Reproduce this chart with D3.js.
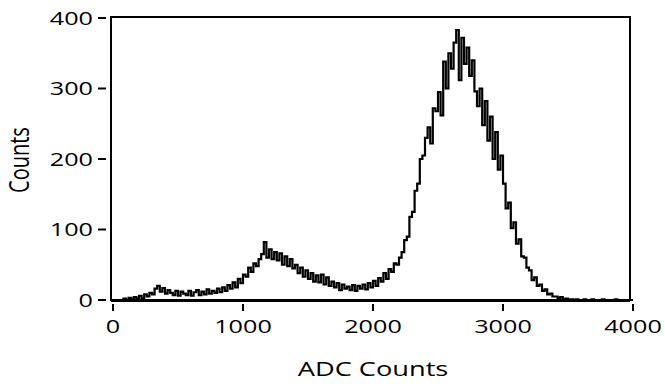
<!DOCTYPE html>
<html>
<head>
<meta charset="utf-8">
<script src="https://cdn.jsdelivr.net/npm/d3@7"></script>
<style>
  body { margin: 0; background: #fff; }
  text { font-family: "Open Sans", sans-serif; fill: #000; }
</style>
</head>
<body>
<svg id="chart" width="665" height="384"></svg>
<script>
// histogram bins, 20 ADC counts wide, starting at 0
const binWidth = 20;
const counts = [
    0, 0, 0, 0, 2, 0, 3, 1, 4, 2, 6, 2, 8, 5, 10, 8, 16, 20, 12, 17,
    9, 14, 10, 7, 13, 6, 12, 9, 7, 13, 6, 11, 14, 7, 12, 8, 15, 9, 13, 10,
    16, 11, 18, 13, 21, 16, 25, 18, 30, 24,
    36, 33, 46, 40, 52, 48, 58, 65, 82, 60,
    72, 58, 68, 56, 66, 50, 62, 48, 58, 45,
    50, 38, 46, 33, 42, 30, 38, 26, 35, 25,
    36, 22, 32, 20, 26, 18, 24, 14, 22, 16,
    19, 14, 21, 13, 20, 16, 22, 15, 24, 18,
    27, 20, 31, 26, 38, 30, 44, 40, 52, 50,
    60, 68, 85, 90, 118, 125, 155, 165, 200, 205,
    230, 245, 222, 272, 268, 295, 262, 338, 300, 350,
    328, 365, 383, 312, 372, 335, 358, 318, 340, 296,
    275, 300, 248, 282, 226, 260, 200, 238, 185, 205,
    165, 130, 138, 102, 110, 80, 86, 62, 60, 46,
    42, 28, 32, 20, 22, 13, 15, 8, 9, 5,
    5, 3, 4, 1, 2, 1, 1, 0, 1, 0,
    0, 1, 0, 0, 1, 0, 0, 0, 1, 0, 0, 0, 0, 1, 0, 0, 0, 0, 0, 0
];
const xTicks = [0, 1000, 2000, 3000, 4000];
const yTicks = [0, 100, 200, 300, 400];
const xLabel = "ADC Counts";
const yLabel = "Counts";

// text in the source is stretched sideways
const stretch = 1.36;

const svg = d3.select("#chart");
const x = d3.scaleLinear().domain([0, 4000]).range([113, 633]);
const y = d3.scaleLinear().domain([0, 400]).range([300, 18]);

const points = counts.map((c, i) => [i * binWidth, c]);
points.push([counts.length * binWidth, 0]);

// frame
svg.append("rect")
    .attr("x", 111)
    .attr("y", y(400) - 1)
    .attr("width", 630 - 111)
    .attr("height", y(0) - y(400) + 1)
    .attr("fill", "none")
    .attr("stroke", "#000")
    .attr("stroke-width", 2);

const line = d3.line()
    .x(d => x(d[0]))
    .y(d => y(d[1]))
    .curve(d3.curveStepAfter);

svg.append("path")
    .datum(points)
    .attr("d", line)
    .attr("fill", "none")
    .attr("stroke", "#000")
    .attr("stroke-width", 2.2);

// thicker baseline
svg.append("line")
    .attr("x1", 111).attr("x2", 630)
    .attr("y1", y(0) + 1).attr("y2", y(0) + 1)
    .attr("stroke", "#000")
    .attr("stroke-width", 2);

// x ticks
svg.selectAll(".xtick")
    .data(xTicks)
    .join("line")
    .attr("class", "xtick")
    .attr("x1", d => x(d)).attr("x2", d => x(d))
    .attr("y1", 304).attr("y2", 311)
    .attr("stroke", "#000")
    .attr("stroke-width", 2);

svg.selectAll(".xlab")
    .data(xTicks)
    .join("text")
    .attr("class", "xlab")
    .attr("transform", d => `translate(${x(d)},333) scale(${stretch},1)`)
    .attr("text-anchor", "middle")
    .style("font-size", "18.5px")
    .text(d => d);

// y ticks
svg.selectAll(".ytick")
    .data(yTicks)
    .join("line")
    .attr("class", "ytick")
    .attr("x1", 98).attr("x2", 106)
    .attr("y1", d => y(d)).attr("y2", d => y(d))
    .attr("stroke", "#000")
    .attr("stroke-width", 2);

svg.selectAll(".ylab")
    .data(yTicks)
    .join("text")
    .attr("class", "ylab")
    .attr("transform", d => `translate(93,${y(d) + 6.5}) scale(${stretch},1)`)
    .attr("text-anchor", "end")
    .style("font-size", "18.5px")
    .text(d => d);

// axis titles
svg.append("text")
    .attr("transform", `translate(373,376) scale(${stretch},1)`)
    .attr("text-anchor", "middle")
    .style("font-size", "20px")
    .text(xLabel);

svg.append("text")
    .attr("transform", `translate(29,160) scale(${stretch},1) rotate(-90)`)
    .attr("text-anchor", "middle")
    .style("font-size", "20px")
    .text(yLabel);
</script>
</body>
</html>
